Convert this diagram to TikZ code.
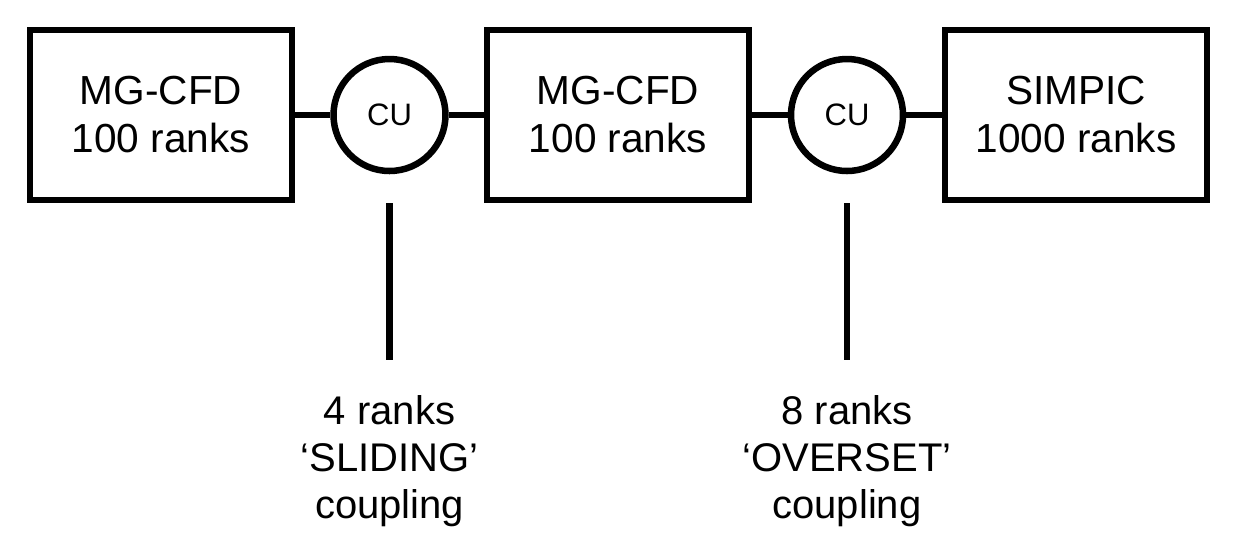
\documentclass[tikz,border=0pt]{standalone}
\usepackage{fontspec}
\setmainfont{Liberation Sans}
\begin{document}
\begin{tikzpicture}[x=0.5pt,y=-0.5pt,
  blk/.style={draw,line width=3.25pt,minimum width=131pt,minimum height=85pt,align=center,font=\fontsize{20.3}{24}\selectfont,inner sep=0pt},
  cu/.style={draw,circle,line width=3.25pt,minimum size=56pt,inner sep=0pt,font=\fontsize{15.5}{17}\selectfont},
  link/.style={line width=3.25pt},
  lbl/.style={align=center,font=\fontsize{20}{23.5}\selectfont,inner sep=0pt}]
\useasboundingbox (0,0) rectangle (1236,554);
\node[blk] (m1) at (161,115) {MG-CFD\\100 ranks};
\node[blk] (m2) at (618,115) {MG-CFD\\100 ranks};
\node[blk] (s3) at (1076,115) {SIMPIC\\1000 ranks};
\node[cu] (c1) at (389.5,115) {CU};
\node[cu] (c2) at (847,115) {CU};
\draw[link] (m1) -- (c1);
\draw[link] (c1) -- (m2);
\draw[link] (m2) -- (c2);
\draw[link] (c2) -- (s3);
\coordinate (t1) at (389.5,203);
\coordinate (b1) at (389.5,360);
\coordinate (t2) at (847,203);
\coordinate (b2) at (847,360);
\draw[link] (t1) -- (b1);
\draw[link] (t2) -- (b2);
\node[lbl] (l1) at (389.5,461) {4 ranks\\‘SLIDING’\\coupling};
\node[lbl] (l2) at (847,461) {8 ranks\\‘OVERSET’\\coupling};
\end{tikzpicture}
\end{document}
